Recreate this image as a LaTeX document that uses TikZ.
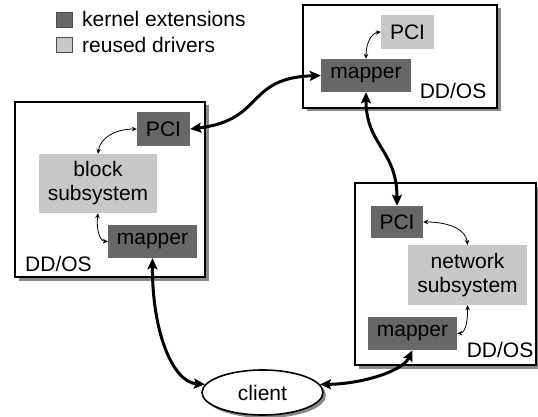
\documentclass[tikz,border=0pt]{standalone}
\usepackage{fontspec}
\setmainfont{Liberation Sans}
\usetikzlibrary{arrows.meta,shapes.geometric,shadows}
\definecolor{kdark}{HTML}{676767}
\definecolor{klight}{HTML}{C8C8C8}
\definecolor{kshadow}{HTML}{8A8A8A}
\tikzset{
  txt/.style={font=\fontsize{21}{24}\selectfont},
  ddbox/.style={draw=black,line width=1.6pt,fill=white,inner sep=0pt,
    drop shadow={shadow xshift=3.5pt,shadow yshift=-3.5pt,fill=kshadow,opacity=1}},
  kext/.style={txt,fill=kdark,inner sep=0pt,align=center},
  reused/.style={txt,fill=klight,inner sep=0pt,align=center},
  bigarrow/.style={line width=3pt,{Stealth[length=11pt,width=10pt,inset=2pt]}-{Stealth[length=11pt,width=10pt,inset=2pt]}},
  smallarrow/.style={line width=0.8pt,{Stealth[length=5pt,width=4.5pt]}-{Stealth[length=5pt,width=4.5pt]}},
  legsq/.style={draw=black!70,line width=0.8pt,inner sep=0pt,minimum width=16pt,minimum height=15pt}
}
\begin{document}
\begin{tikzpicture}[x=1pt,y=-1pt]
\useasboundingbox (0,0) rectangle (538,417);
% legend
\node[legsq,fill=kdark] (lgk) at (64,19.5) {};
\node[legsq,fill=klight] (lgr) at (64,44.5) {};
\node[txt,anchor=base west,inner sep=0pt] (lgkt) at (82,27) {kernel extensions};
\node[txt,anchor=base west,inner sep=0pt] (lgrt) at (82,53) {reused drivers};
% outer boxes
\node[ddbox,minimum width=194pt,minimum height=103pt] (tbox) at (400,56.5) {};
\node[ddbox,minimum width=190pt,minimum height=175pt] (lbox) at (110,189.5) {};
\node[ddbox,minimum width=181pt,minimum height=182pt] (rbox) at (445.5,274) {};
% top box contents
\node[reused,minimum width=53pt,minimum height=34pt] (tPCI) at (407.5,32) {PCI};
\node[kext,minimum width=90pt,minimum height=33pt] (tmap) at (366,75.5) {mapper};
\node[txt,inner sep=0pt] (tdd) at (453,90.5) {DD/OS};
% left box contents
\node[kext,minimum width=53pt,minimum height=34pt] (lPCI) at (163.5,129) {PCI};
\node[reused,minimum width=118pt,minimum height=59pt] (lblock) at (98,183.5) {block\\subsystem};
\node[kext,minimum width=89pt,minimum height=33pt] (lmap) at (152.5,241.5) {mapper};
\node[txt,inner sep=0pt] (ldd) at (58.5,263.5) {DD/OS};
% right box contents
\node[kext,minimum width=52pt,minimum height=32pt] (rPCI) at (397,222) {PCI};
\node[reused,minimum width=119pt,minimum height=60pt] (rnet) at (467.5,275) {network\\subsystem};
\node[kext,minimum width=89pt,minimum height=33pt] (rmap) at (412.5,333.5) {mapper};
\node[txt,inner sep=0pt] (rdd) at (500,350) {DD/OS};
% client
\node[txt,ellipse,draw=black,line width=1.6pt,fill=white,minimum width=121pt,minimum height=45pt,inner sep=0pt,
  drop shadow={shadow xshift=3pt,shadow yshift=-3pt,fill=kshadow,opacity=1}] (client) at (262.5,392.5) {client};
% thick connectors
\draw[bigarrow] (lPCI.east) .. controls (265,120) and (245,78) .. (tmap.west);
\draw[bigarrow] (tmap.south) .. controls (366,145) and (397,150) .. (rPCI.north);
\draw[bigarrow] (lmap.south) .. controls (152,330) and (172,382) .. (client.172);
\draw[bigarrow] (rmap.south) .. controls (402,372) and (360,384) .. (client.8);
% thin connectors
\draw[smallarrow] (tmap.north) .. controls (366,42) and (372,33) .. (tPCI.west);
\draw[smallarrow] (lPCI.west) .. controls (115,129) and (100,138) .. (lblock.north);
\draw[smallarrow] (lblock.south) .. controls (96,230) and (100,241) .. (lmap.west);
\draw[smallarrow] (rPCI.east) .. controls (450,222) and (466,230) .. (rnet.north);
\draw[smallarrow] (rnet.south) .. controls (468,322) and (465,333) .. (rmap.east);
\end{tikzpicture}
\end{document}
